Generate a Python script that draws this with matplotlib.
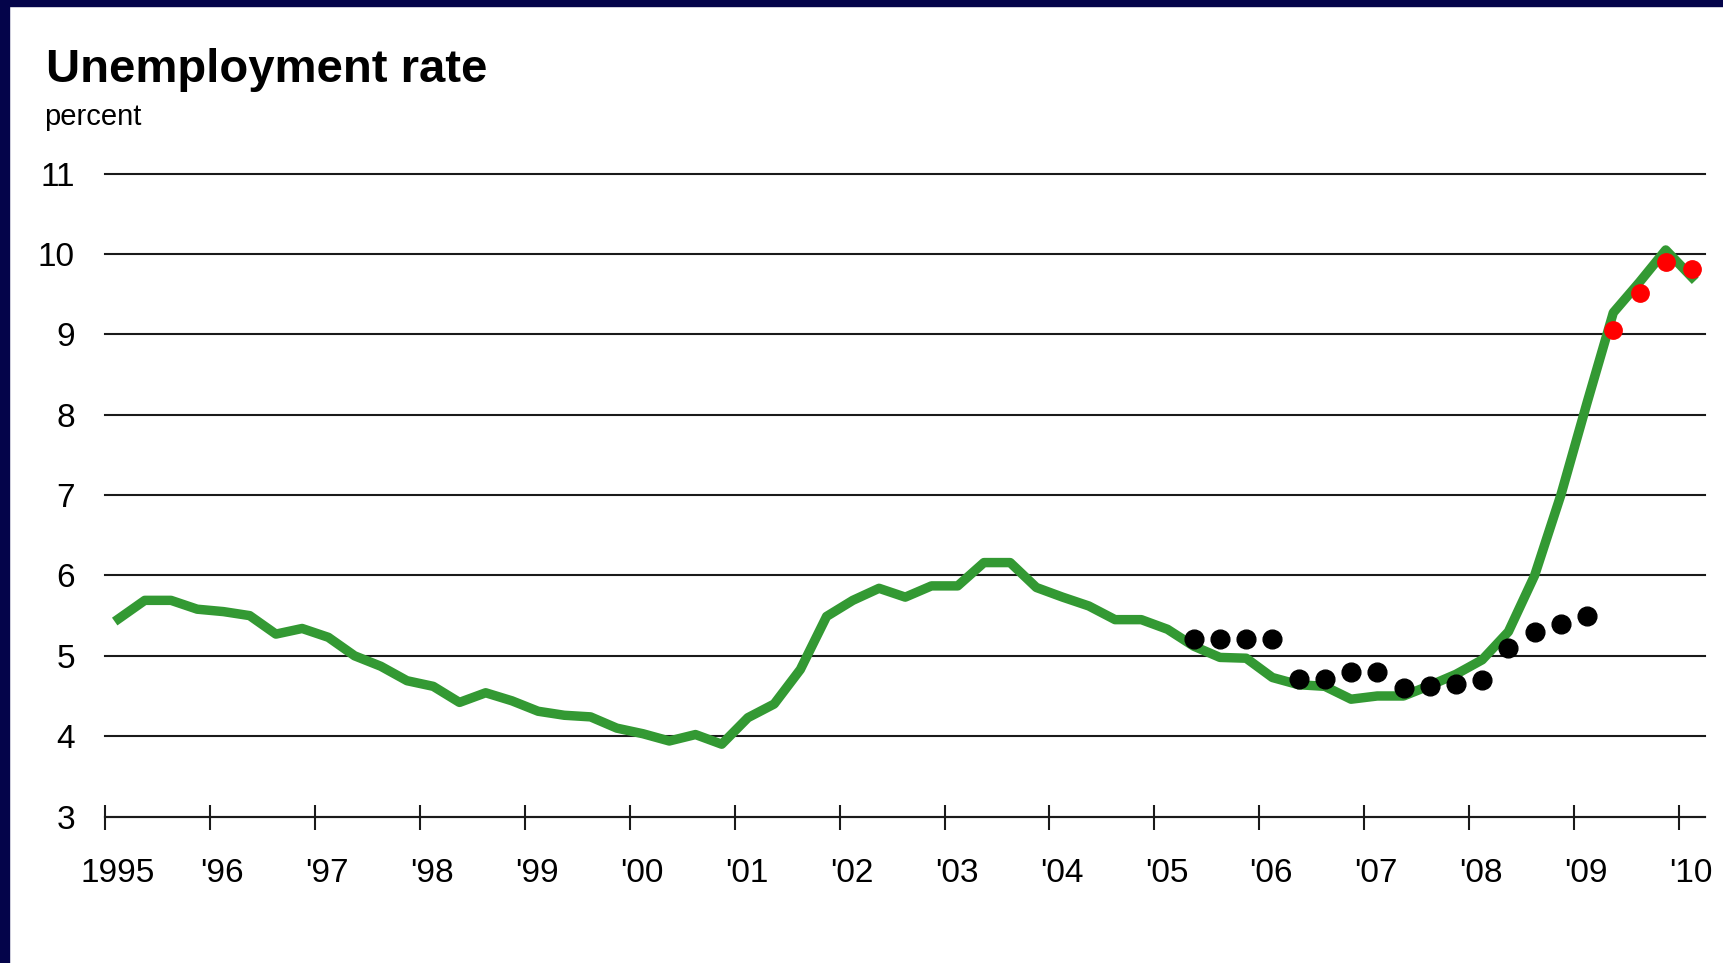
import numpy as np
import pandas as pd
import matplotlib.pyplot as plt
from matplotlib.patches import Rectangle
from matplotlib.transforms import ScaledTranslation

plt.rcParams["font.family"] = ["Liberation Sans", "DejaVu Sans"]

# quarterly unemployment rate, 1995Q1 - 2010Q1
rate_start = "1995Q1"
rate = [
    5.46, 5.69, 5.69, 5.58,
    5.55, 5.50, 5.27, 5.34,
    5.23, 5.00, 4.87, 4.69,
    4.62, 4.42, 4.54, 4.44,
    4.31, 4.26, 4.24, 4.10,
    4.03, 3.94, 4.02, 3.90,
    4.23, 4.40, 4.83, 5.49,
    5.69, 5.84, 5.73, 5.87,
    5.87, 6.16, 6.16, 5.85,
    5.73, 5.62, 5.45, 5.45,
    5.33, 5.12, 4.98, 4.97,
    4.73, 4.64, 4.62, 4.46,
    4.50, 4.50, 4.63, 4.77,
    4.95, 5.30, 6.00, 7.00,
    8.15, 9.27, 9.65, 10.05,
    9.71,
]

# earlier projections (black) and recent ones (red)
old_start = "2005Q2"
old_proj = [5.21, 5.21, 5.21, 5.21,
            4.71, 4.71, 4.80, 4.80,
            4.60, 4.63, 4.65, 4.70,
            5.10, 5.30, 5.40, 5.49]

new_start = "2009Q2"
new_proj = [9.05, 9.52, 9.90, 9.81]

years = list(range(1995, 2011))
year_labels = ["1995"] + ["'" + str(y)[2:] for y in years[1:]]
y_ticks = list(range(3, 12))


def quarter_x(start, n):
    p = pd.period_range(start, periods=n, freq="Q")
    return p.year + (p.quarter - 0.5) / 4


fig = plt.figure(figsize=(17.23, 9.63), dpi=100)
ax = fig.add_axes([0.0612, 0.1521, 0.9284, 0.6676])

ax.plot(quarter_x(rate_start, len(rate)), rate, color="#339933", lw=6.8,
        solid_joinstyle="round", zorder=3, clip_on=False)
ax.plot(quarter_x(old_start, len(old_proj)), old_proj, "o", color="black",
        ms=13.5, zorder=4, clip_on=False)
ax.plot(quarter_x(new_start, len(new_proj)), new_proj, "o", color="#ff0000",
        ms=12.5, zorder=4, clip_on=False)

ax.set_xlim(1995, 2010.25)
ax.set_ylim(3, 11)

ax.set_xticks(years)
ax.set_xticklabels(year_labels, fontsize=24)
ax.set_yticks(y_ticks)
ax.set_yticklabels([str(v) for v in y_ticks], fontsize=24)

ax.tick_params(axis="x", direction="inout", length=18, width=1.5, pad=21,
               color="#1a1a1a")
ax.tick_params(axis="y", length=0, pad=22)
for lab in ax.get_xticklabels():
    lab.set_transform(lab.get_transform() + ScaledTranslation(0.12, 0, fig.dpi_scale_trans))

ax.grid(axis="y", color="#1a1a1a", lw=1.5)
ax.grid(axis="x", visible=False)
for gl in ax.get_ygridlines():
    gl.set_clip_on(False)
ax.set_axisbelow(True)

for s in ["left", "right", "top"]:
    ax.spines[s].set_visible(False)
ax.spines["bottom"].set_color("#1a1a1a")
ax.spines["bottom"].set_linewidth(1.5)

fig.text(0.0267, 0.9148, "Unemployment rate", fontsize=34, fontweight="bold",
         va="baseline")
fig.text(0.0255, 0.8699, "percent", fontsize=21, va="baseline")

# slide frame
fig.patches.append(Rectangle((0, 0), 9 / 1723, 1, transform=fig.transFigure,
                             color="#04044a", zorder=10))
fig.patches.append(Rectangle((0, 1 - 6 / 963), 1, 6 / 963, transform=fig.transFigure,
                             color="#04044a", zorder=10))

fig.savefig("out.png", dpi=100)
